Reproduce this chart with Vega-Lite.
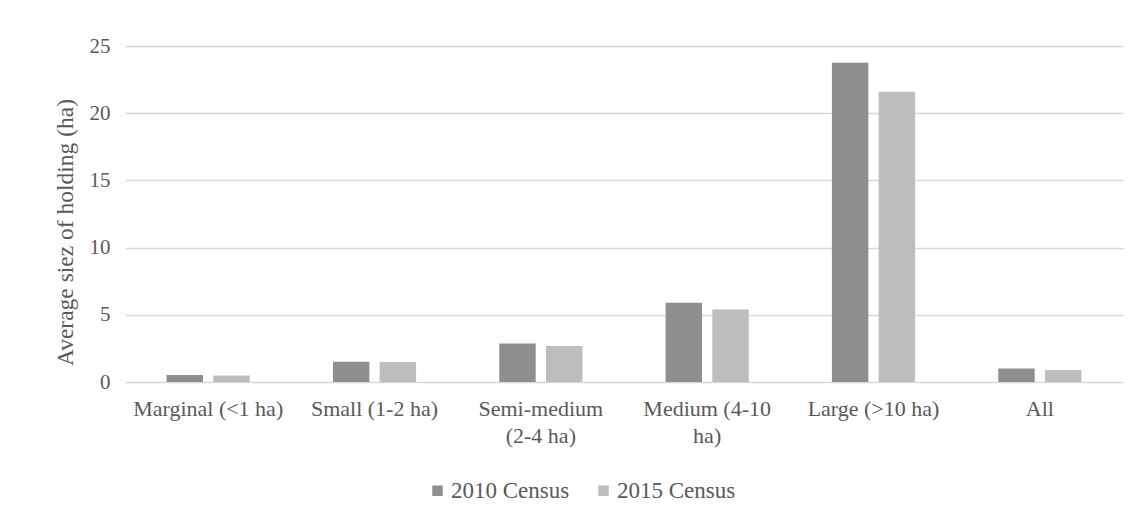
{
  "$schema": "https://vega.github.io/schema/vega-lite/v6.json",
  "autosize": {"type": "none"},
  "width": 998,
  "height": 336,
  "padding": {"left": 125, "top": 46, "right": 16, "bottom": 135},
  "background": "white",
  "data": {
    "values": [
      {"size": "Marginal (<1 ha)", "census": "2010 Census", "value": 0.52},
      {"size": "Marginal (<1 ha)", "census": "2015 Census", "value": 0.49},
      {"size": "Small (1-2 ha)", "census": "2010 Census", "value": 1.5},
      {"size": "Small (1-2 ha)", "census": "2015 Census", "value": 1.49},
      {"size": "Semi-medium (2-4 ha)", "census": "2010 Census", "value": 2.87},
      {"size": "Semi-medium (2-4 ha)", "census": "2015 Census", "value": 2.67},
      {"size": "Medium (4-10 ha)", "census": "2010 Census", "value": 5.89},
      {"size": "Medium (4-10 ha)", "census": "2015 Census", "value": 5.4},
      {"size": "Large (>10 ha)", "census": "2010 Census", "value": 23.75},
      {"size": "Large (>10 ha)", "census": "2015 Census", "value": 21.6},
      {"size": "All", "census": "2010 Census", "value": 1.0},
      {"size": "All", "census": "2015 Census", "value": 0.9}
    ]
  },
  "mark": {"type": "bar"},
  "encoding": {
    "x": {
      "field": "size",
      "type": "nominal",
      "sort": null,
      "scale": {"paddingInner": 0.5, "paddingOuter": 0.25},
      "axis": {
        "title": null,
        "labelAngle": 0,
        "domain": false,
        "ticks": false,
        "labelPadding": 16,
        "labelLimit": 400,
        "labelFont": "Liberation Serif",
        "labelFontSize": 22,
        "labelColor": "#595959",
        "labelLineHeight": 27,
        "labelExpr": "datum.value == 'Semi-medium (2-4 ha)' ? ['Semi-medium', '(2-4 ha)'] : datum.value == 'Medium (4-10 ha)' ? ['Medium (4-10', 'ha)'] : datum.label"
      }
    },
    "xOffset": {
      "field": "census",
      "type": "nominal",
      "scale": {"paddingInner": 0.22, "paddingOuter": 0}
    },
    "y": {
      "field": "value",
      "type": "quantitative",
      "scale": {"domain": [0, 25], "nice": false},
      "axis": {
        "title": "Average siez of holding (ha)",
        "titleFont": "Liberation Serif",
        "titleFontSize": 23.5,
        "titleFontWeight": "normal",
        "titleColor": "#595959",
        "titlePadding": 12,
        "titleY": 186,
        "values": [0, 5, 10, 15, 20, 25],
        "domain": false,
        "ticks": false,
        "labelPadding": 15,
        "labelFont": "Liberation Serif",
        "labelFontSize": 21,
        "labelColor": "#595959",
        "gridColor": "#d9d9d9",
        "gridWidth": 1.5
      }
    },
    "color": {
      "field": "census",
      "type": "nominal",
      "scale": {"range": ["#8f8f8f", "#bdbdbd"]},
      "legend": {
        "title": null,
        "orient": "none",
        "legendX": 301,
        "legendY": 433,
        "direction": "horizontal",
        "symbolType": "square",
        "symbolSize": 110,
        "symbolStrokeWidth": 0,
        "labelFont": "Liberation Serif",
        "labelFontSize": 23,
        "labelColor": "#595959",
        "labelOffset": 2,
        "columnPadding": 22
      }
    }
  },
  "config": {
    "view": {"stroke": null}
  }
}
